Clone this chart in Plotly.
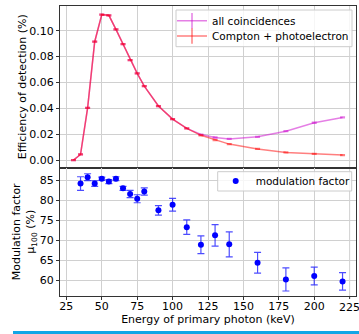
import plotly.graph_objects as go
from plotly.subplots import make_subplots

# ---- data ----
energy_eff = [30, 35, 40, 45, 50, 55, 60, 65, 70, 75, 80, 90, 100, 110, 120, 130, 140, 160, 180, 200, 220]
eff_compton = [0.0000, 0.0044, 0.0404, 0.0915, 0.1124, 0.1119, 0.1010, 0.0897, 0.0773, 0.0670,
               0.0572, 0.0418, 0.0317, 0.0245, 0.0192, 0.0155, 0.0124, 0.0087, 0.0060, 0.0049, 0.0039]
eff_all = [0.0000, 0.0044, 0.0404, 0.0915, 0.1124, 0.1119, 0.1010, 0.0897, 0.0773, 0.0670,
           0.0572, 0.0418, 0.0317, 0.0245, 0.0198, 0.0175, 0.0164, 0.0180, 0.0224, 0.0289, 0.0330]
eff_err = [0.0003] * len(energy_eff)

energy_mod = [35, 40, 45, 50, 55, 60, 65, 70, 75, 80, 90, 100, 110, 120, 130, 140, 160, 180, 200, 220]
mod_factor = [84.2, 85.8, 84.2, 85.4, 84.7, 85.4, 83.0, 81.6, 80.4, 82.2, 77.5, 78.9,
              73.3, 68.9, 71.25, 69.0, 64.4, 60.25, 61.1, 59.75]
mod_err = [1.7, 0.85, 0.7, 0.4, 0.5, 0.5, 0.5, 0.9, 1.0, 0.9, 1.2, 1.6,
           1.8, 2.2, 2.7, 3.1, 2.6, 2.9, 2.2, 2.2]

x_ticks = [25, 50, 75, 100, 125, 150, 175, 200]
x_last_tick = 225
eff_ticks = [0.00, 0.02, 0.04, 0.06, 0.08, 0.10]
mod_ticks = [60, 65, 70, 75, 80, 85]

# ---- styling ----
FONT = "DejaVu Sans"
C_ALL = "rgba(204,0,204,0.5)"
C_CMP = "rgba(255,0,0,0.5)"
C_BLUE = "#0000ff"
GRID = "#d0d0d0"
SPINE = "#333333"

# figure is wider than the 359px window so the last tick label has room
W, H = 374, 334
ML, MR, MT, MB = 60, 18, 6, 38
PW, PH = W - ML - MR, H - MT - MB


def px_x(p):
    return (p - ML) / PW


def px_y(p):
    return (H - MB - p) / PH


fig = make_subplots(rows=2, cols=1, shared_xaxes=True, vertical_spacing=0,
                    row_heights=[0.557, 0.443])

# top panel: efficiency
fig.add_trace(go.Scatter(
    x=energy_eff, y=eff_all, mode="lines",
    line=dict(color=C_ALL, width=1.5),
    error_y=dict(type="data", array=eff_err, color=C_ALL, thickness=1.5, width=2.5),
    showlegend=False), row=1, col=1)
fig.add_trace(go.Scatter(
    x=energy_eff, y=eff_compton, mode="lines",
    line=dict(color=C_CMP, width=1.5),
    error_y=dict(type="data", array=eff_err, color=C_CMP, thickness=1.5, width=2.5),
    showlegend=False), row=1, col=1)

# legend handles for top panel (one legend per row so rows sit closer together)
fig.add_trace(go.Scatter(
    x=[None], y=[None], mode="lines+markers", name="all coincidences",
    line=dict(color=C_ALL, width=1.5),
    marker=dict(symbol="line-ns", size=11, line=dict(color=C_ALL, width=1.5)),
    legend="legend"), row=1, col=1)
fig.add_trace(go.Scatter(
    x=[None], y=[None], mode="lines+markers", name="Compton + photoelectron",
    line=dict(color=C_CMP, width=1.5),
    marker=dict(symbol="line-ns", size=11, line=dict(color=C_CMP, width=1.5)),
    legend="legend3"), row=1, col=1)

# bottom panel: modulation factor
fig.add_trace(go.Scatter(
    x=energy_mod, y=mod_factor, mode="markers", name="modulation factor",
    marker=dict(color=C_BLUE, size=6),
    error_y=dict(type="data", array=mod_err, color="rgba(0,0,255,0.7)", thickness=1.2, width=3.5),
    legend="legend2"), row=2, col=1)

axis_common = dict(showline=True, mirror=True, linecolor=SPINE, linewidth=1,
                   showgrid=True, gridcolor=GRID, gridwidth=1,
                   ticks="outside", ticklen=3, tickcolor=SPINE,
                   zeroline=False, tickfont=dict(family=FONT, size=11, color="black"))

fig.update_xaxes(range=[20.5, 229.5], tickvals=x_ticks, ticklabeloverflow="allow",
                 ticklabelstandoff=-3, **axis_common)
fig.update_xaxes(showticklabels=False, row=1, col=1)
fig.update_xaxes(title=dict(text="Energy of primary photon (keV)", standoff=0,
                            font=dict(family=FONT, size=11, color="black")), row=2, col=1)

fig.update_yaxes(range=[-0.0057, 0.1191], tickvals=eff_ticks, tickformat=".2f",
                 title=dict(text="Efficiency of detection (%)", standoff=0,
                            font=dict(family=FONT, size=11, color="black")),
                 row=1, col=1, **axis_common)
fig.update_yaxes(range=[56.1, 88.2], tickvals=mod_ticks,
                 title=dict(text="Modulation factor<br>μ<sub>100</sub> (%)", standoff=2,
                            font=dict(family=FONT, size=11, color="black")),
                 row=2, col=1, **axis_common)

LEG_FONT = dict(family=FONT, size=10.5, color="black")
leg_common = dict(xanchor="left", yanchor="middle", bgcolor="rgba(0,0,0,0)",
                  borderwidth=0, font=LEG_FONT, itemwidth=30)

# last tick (gridline, tick mark and label) drawn on the x axis' own scale
last_tick_shapes = []
for yref, y0, y1 in (("y domain", 0, 1), ("y2 domain", 0, 1)):
    last_tick_shapes.append(dict(type="line", xref="x2", yref=yref, x0=x_last_tick, x1=x_last_tick,
                                 y0=y0, y1=y1, line=dict(color=GRID, width=1), layer="below"))
last_tick_shapes.append(dict(type="line", xref="x2", yref="paper", x0=x_last_tick, x1=x_last_tick,
                             y0=0, y1=px_y(299), line=dict(color=SPINE, width=1)))

fig.update_layout(
    width=W, height=H,
    margin=dict(l=ML, r=MR, t=MT, b=MB),
    paper_bgcolor="white", plot_bgcolor="white",
    font=dict(family=FONT, size=11, color="black"),
    legend=dict(x=px_x(172), y=px_y(20.7), **leg_common),
    legend3=dict(x=px_x(172), y=px_y(36), **leg_common),
    legend2=dict(x=px_x(215.7), y=px_y(181), **leg_common),
    annotations=[dict(text=str(x_last_tick), x=x_last_tick, xref="x2", y=px_y(307.5), yref="paper",
                      xanchor="center", yanchor="middle", showarrow=False,
                      font=dict(family=FONT, size=11, color="black"))],
    shapes=last_tick_shapes + [
        # legend frames
        dict(type="rect", xref="paper", yref="paper",
             x0=px_x(176), x1=px_x(352), y0=px_y(46.7), y1=px_y(10),
             fillcolor="rgba(255,255,255,0.8)", line=dict(color="#cccccc", width=1), layer="above"),
        dict(type="rect", xref="paper", yref="paper",
             x0=px_x(217.7), x1=px_x(351.7), y0=px_y(191), y1=px_y(171.7),
             fillcolor="rgba(255,255,255,0.8)", line=dict(color="#cccccc", width=1), layer="above"),
        # cyan strip at the bottom edge of the source image
        dict(type="rect", xref="paper", yref="paper",
             x0=px_x(13), x1=px_x(W + 2), y0=px_y(334.5), y1=px_y(331),
             fillcolor="#12a6e6", line=dict(width=0), layer="above"),
    ],
)

fig.write_html("out.html", config={"displayModeBar": False},
               post_script="document.body.style.margin='0';document.body.style.overflow='hidden';")
